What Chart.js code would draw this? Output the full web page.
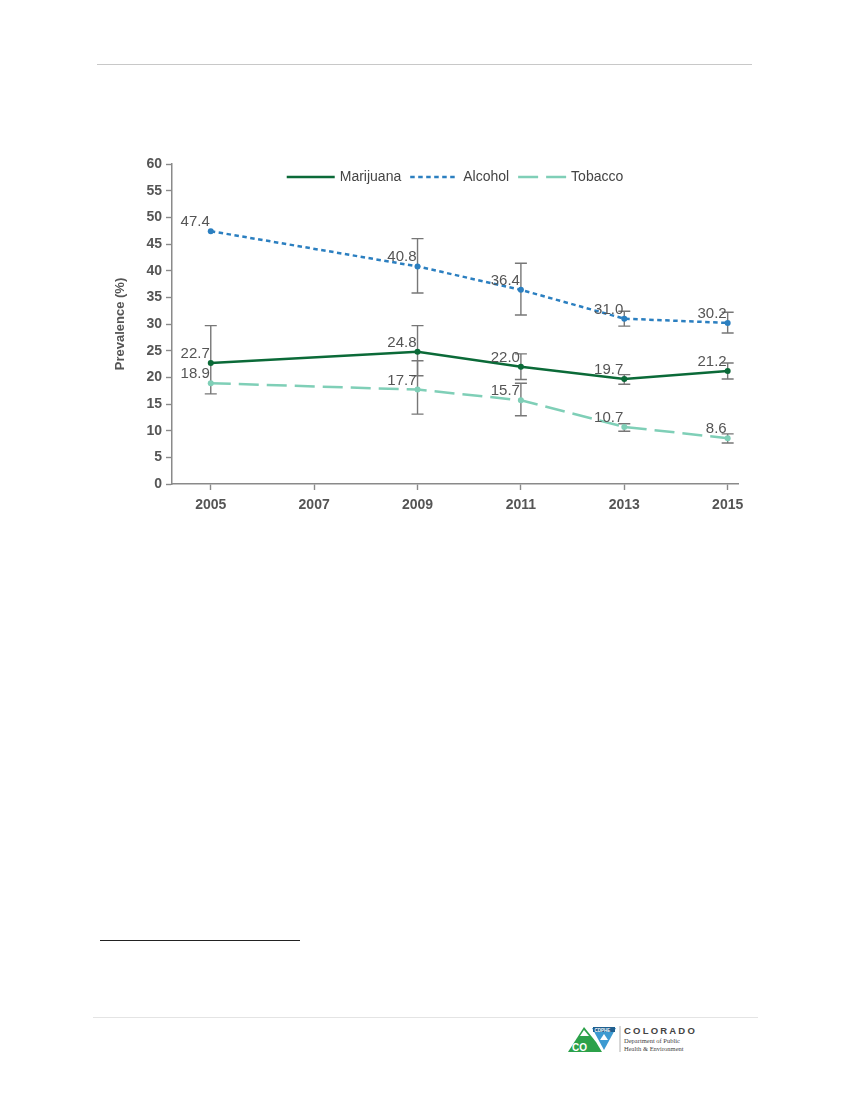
<!DOCTYPE html>
<html>
<head>
<meta charset="utf-8">
<script src="https://cdn.jsdelivr.net/npm/chart.js@4.4.1/dist/chart.umd.min.js"></script>
<style>
  body { margin: 0; background: #fff; width: 850px; height: 1100px; position: relative;
         font-family: "Liberation Sans", Arial, sans-serif; }
  .rule-top { position: absolute; left: 97px; top: 64px; width: 655px; height: 1px; background: #c8c8c8; }
  #wrap { position: absolute; left: 100px; top: 150px; width: 660px; height: 380px; }
  .fn { position: absolute; left: 100px; top: 940px; width: 200px; height: 1px; background: #222; }
  .rule-bot { position: absolute; left: 93px; top: 1017px; width: 665px; height: 1px; background: #e4e4e4; }
  .logo { position: absolute; left: 566px; top: 1022px; }
</style>
</head>
<body>
<div class="rule-top"></div>
<div id="wrap"><canvas id="chart"></canvas></div>
<div class="fn"></div>
<div class="rule-bot"></div>
<div class="logo">
  <svg width="130" height="34" viewBox="0 0 130 34">
    <polygon points="2,30 18,5 30,20 36,30" fill="#2ca14a"/>
    <polygon points="14,14 18,8 23,14" fill="#fff"/>
    <text x="6" y="29" font-family="Liberation Sans" font-weight="bold" font-size="10" fill="#fff">CO</text>
    <polygon points="26,6 50,6 38,28" fill="#3d9ad1"/>
    <rect x="27" y="5" width="22" height="5" fill="#1f5f8f"/>
    <text x="28.5" y="9.5" font-family="Liberation Sans" font-weight="bold" font-size="4.5" fill="#fff">CDPHE</text>
    <polygon points="34,18 38,12 42,18" fill="#fff"/>
    <line x1="54" y1="4" x2="54" y2="30" stroke="#999" stroke-width="0.8"/>
    <text x="58" y="12" font-family="Liberation Sans" font-weight="bold" font-size="9.5" letter-spacing="2.2" fill="#444">COLORADO</text>
    <text x="58" y="21" font-family="Liberation Serif" font-size="6.5" fill="#444">Department of Public</text>
    <text x="58" y="28.5" font-family="Liberation Serif" font-size="6.5" fill="#444">Health &amp; Environment</text>
  </svg>
</div>

<script>
// données
const years = [2005, 2009, 2011, 2013, 2015];
const xTicks = [2005, 2007, 2009, 2011, 2013, 2015];

const marijuana = [22.7, 24.8, 22.0, 19.7, 21.2];
const marijuanaLo = [16.9, 20.3, 19.6, 18.7, 19.7];
const marijuanaHi = [29.7, 29.7, 24.4, 20.5, 22.7];

const alcohol = [47.4, 40.8, 36.4, 31.0, 30.2];
const alcoholLo = [null, 35.8, 31.7, 29.6, 28.3];
const alcoholHi = [null, 46.0, 41.4, 32.4, 32.2];

const tobacco = [18.9, 17.7, 15.7, 10.7, 8.6];
const tobaccoLo = [null, 13.1, 12.8, 9.9, 7.7];
const tobaccoHi = [null, 23.1, 18.9, 11.3, 9.4];

const GRAY = "#555";
const AXIS = "#8a8a8a";
const FONT = "'Liberation Sans', Arial, sans-serif";

function pts(vals) {
  return years.map((y, i) => ({ x: y, y: vals[i] }));
}

// barres d'erreur
const errorBars = {
  id: "errorBars",
  beforeDatasetsDraw(chart) {
    const { ctx, scales: { x, y } } = chart;
    ctx.save();
    ctx.strokeStyle = "#777";
    ctx.lineWidth = 1.4;
    chart.data.datasets.forEach(ds => {
      years.forEach((yr, i) => {
        const lo = ds.lo[i], hi = ds.hi[i];
        if (lo == null || hi == null) return;
        const px = x.getPixelForValue(yr);
        const pLo = y.getPixelForValue(lo), pHi = y.getPixelForValue(hi);
        ctx.beginPath();
        ctx.moveTo(px, pLo); ctx.lineTo(px, pHi);
        ctx.moveTo(px - 6, pLo); ctx.lineTo(px + 6, pLo);
        ctx.moveTo(px - 6, pHi); ctx.lineTo(px + 6, pHi);
        ctx.stroke();
      });
    });
    ctx.restore();
  }
};

// étiquettes de valeurs
const valueLabels = {
  id: "valueLabels",
  afterDatasetsDraw(chart) {
    const { ctx } = chart;
    ctx.save();
    ctx.font = "15px " + FONT;
    ctx.fillStyle = GRAY;
    ctx.textAlign = "right";
    ctx.textBaseline = "alphabetic";
    chart.data.datasets.forEach((ds, di) => {
      chart.getDatasetMeta(di).data.forEach((pt, i) => {
        ctx.fillText(ds.data[i].y.toFixed(1), pt.x - 1, pt.y - 5);
      });
    });
    ctx.restore();
  }
};

// légende dans la zone du graphique
const inlineLegend = {
  id: "inlineLegend",
  afterDraw(chart) {
    const { ctx, chartArea } = chart;
    ctx.save();
    ctx.font = "14px " + FONT;
    const lineW = 48, gapText = 5, gapItem = 9;
    const items = chart.data.datasets;
    let total = 0;
    items.forEach((ds, i) => {
      total += lineW + gapText + ctx.measureText(ds.label).width + (i < items.length - 1 ? gapItem : 0);
    });
    let x = (chartArea.left + chartArea.right) / 2 - total / 2;
    const y = chartArea.top + 13;
    items.forEach(ds => {
      ctx.strokeStyle = ds.borderColor;
      ctx.lineWidth = ds.borderWidth;
      ctx.setLineDash(ds.borderDash || []);
      ctx.beginPath();
      ctx.moveTo(x, y); ctx.lineTo(x + lineW, y);
      ctx.stroke();
      ctx.setLineDash([]);
      x += lineW + gapText;
      ctx.fillStyle = "#444";
      ctx.textBaseline = "middle";
      ctx.fillText(ds.label, x, y);
      x += ctx.measureText(ds.label).width + gapItem;
    });
    ctx.restore();
  }
};

function dataset(label, vals, lo, hi, color, dash, width) {
  return {
    label, data: pts(vals), lo, hi,
    borderColor: color, backgroundColor: color,
    borderWidth: width, borderDash: dash,
    pointRadius: 3, pointBackgroundColor: color, pointBorderWidth: 0,
    pointHoverRadius: 3, tension: 0
  };
}

new Chart(document.getElementById("chart"), {
  type: "line",
  data: {
    datasets: [
      dataset("Marijuana", marijuana, marijuanaLo, marijuanaHi, "#0b6a38", [], 2.5),
      dataset("Alcohol", alcohol, alcoholLo, alcoholHi, "#2b7fc0", [4.5, 3.5], 2.5),
      dataset("Tobacco", tobacco, tobaccoLo, tobaccoHi, "#7fcfb7", [20, 8], 2.5)
    ]
  },
  options: {
    responsive: true,
    maintainAspectRatio: false,
    animation: false,
    layout: { padding: { top: 14, right: 22, left: 0, bottom: 0 } },
    plugins: { legend: { display: false }, tooltip: { enabled: false } },
    scales: {
      x: {
        type: "linear",
        min: 2004.25,
        max: 2015.2,
        afterBuildTicks: s => { s.ticks = xTicks.map(v => ({ value: v })); },
        afterFit: s => { s.height = 46; },
        ticks: {
          callback: v => String(v),
          color: GRAY, padding: 7,
          font: { family: FONT, size: 14, weight: "bold" }
        },
        grid: { drawOnChartArea: false, drawTicks: true, tickLength: 6, tickColor: AXIS, tickWidth: 1.4 },
        border: { display: true, color: AXIS, width: 1.5 }
      },
      y: {
        min: 0,
        max: 60,
        afterFit: s => { s.width = 72; },
        ticks: {
          stepSize: 5, color: GRAY, padding: 4,
          font: { family: FONT, size: 14, weight: "bold" }
        },
        title: {
          display: true, text: "Prevalence (%)", color: GRAY,
          padding: { top: 13, bottom: 0 },
          font: { family: FONT, size: 13, weight: "bold" }
        },
        grid: { drawOnChartArea: false, drawTicks: true, tickLength: 6, tickColor: AXIS, tickWidth: 1.4 },
        border: { display: true, color: AXIS, width: 1.5 }
      }
    }
  },
  plugins: [errorBars, valueLabels, inlineLegend]
});
</script>
</body>
</html>
